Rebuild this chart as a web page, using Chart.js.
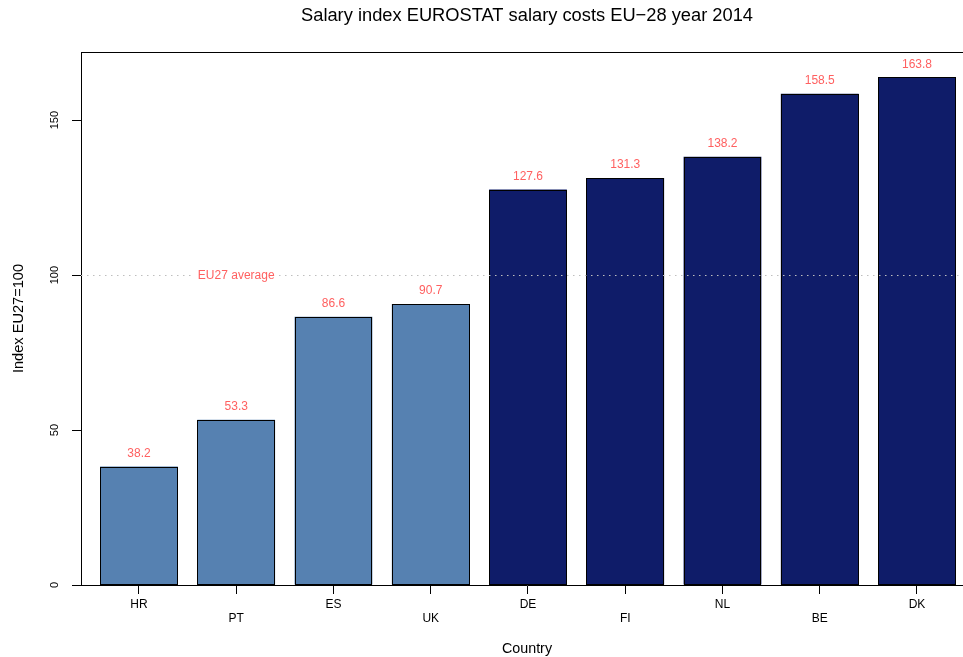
<!DOCTYPE html>
<html>
<head>
<meta charset="utf-8">
<script src="https://cdn.jsdelivr.net/npm/chart.js@4"></script>
<style>
html,body{margin:0;padding:0;background:#fff;overflow:hidden;width:963px;height:657px;}
#wrap{width:973px;height:657px;}
</style>
</head>
<body>
<div id="wrap"><canvas id="c" width="973" height="657"></canvas></div>
<script>
const countries = ['HR','PT','ES','UK','DE','FI','NL','BE','DK'];
const salaryIndex = [38.2, 53.3, 86.6, 90.7, 127.6, 131.3, 138.2, 158.5, 163.8];
const yTicks = [0, 50, 100, 150];
const euAverage = 100;
const averageLabel = 'EU27 average';
const titleText = 'Salary index EUROSTAT salary costs EU\u221228 year 2014';
const xTitle = 'Country';
const yTitle = 'Index EU27=100';

const FAMILY = "'Liberation Sans Narrow','Liberation Sans',sans-serif";
const STRETCH = 'condensed';
const LIGHT = '#5681B1';
const DARK = '#0F1C69';
const RED = '#FF6060';
const f = (size, lineHeight) => ({family: FAMILY, size, style: 'normal', weight: STRETCH, lineHeight: lineHeight || 1.2});

const overlayPlugin = {
  id: 'overlay',
  afterDatasetsDraw(chart){
    const {ctx, chartArea:a, scales:{x, y}} = chart;
    ctx.save();
    ctx.strokeStyle = '#000'; ctx.lineWidth = 1;
    // crisp bar outlines from the library's bar elements
    chart.getDatasetMeta(0).data.forEach(bar => {
      const l = Math.round(bar.x - bar.width / 2), r = Math.round(bar.x + bar.width / 2);
      const t = Math.round(bar.y), b = Math.round(bar.base);
      ctx.strokeRect(l + 0.5, t + 0.5, r - l - 1, b - t - 1);
    });
    // top border of the plot box
    ctx.beginPath(); ctx.moveTo(a.left, Math.round(a.top)+0.5); ctx.lineTo(a.right, Math.round(a.top)+0.5); ctx.stroke();
    // average line
    const ya = Math.round(y.getPixelForValue(euAverage)) + 0.5;
    ctx.strokeStyle = '#BEBEBE'; ctx.setLineDash([1.5, 4.5]);
    ctx.beginPath(); ctx.moveTo(a.left, ya); ctx.lineTo(a.right, ya); ctx.stroke();
    ctx.setLineDash([]);
    ctx.font = 'normal ' + STRETCH + ' 12px ' + FAMILY;
    ctx.textAlign = 'center'; ctx.textBaseline = 'middle';
    const ax = x.getPixelForValue(1);
    const w = ctx.measureText(averageLabel).width;
    ctx.fillStyle = '#fff';
    ctx.fillRect(ax - w/2 - 4, ya - 7, w + 8, 14);
    ctx.fillStyle = RED;
    ctx.fillText(averageLabel, ax, ya);
    // value labels
    salaryIndex.forEach((v, i) => {
      ctx.fillText(v.toFixed(1), x.getPixelForValue(i), y.getPixelForValue(v) - 13);
    });
    ctx.restore();
  }
};

new Chart(document.getElementById('c'), {
  type: 'bar',
  data: {
    datasets: [{
      data: salaryIndex.map((v, i) => ({x: i, y: v})),
      backgroundColor: salaryIndex.map(v => v < euAverage ? LIGHT : DARK),
      borderWidth: 0,
      categoryPercentage: 1,
      barPercentage: 0.8
    }]
  },
  options: {
    responsive: false,
    animation: false,
    devicePixelRatio: 1,
    layout: {padding: 0},
    plugins: {
      legend: {display: false},
      tooltip: {enabled: false},
      title: {
        display: true, fullSize: false, text: titleText, color: '#000',
        font: f(18.3, 1.2),
        padding: {top: 5, bottom: 25.04}
      }
    },
    scales: {
      x: {
        type: 'linear', min: -0.596, max: 8.576, offset: false,
        afterBuildTicks(s){ s.ticks = countries.map((_, i) => ({value: i})); },
        afterFit(s){ s.height = 72; },
        grid: {drawOnChartArea: false, drawTicks: true, tickLength: 9, color: '#000', offset: false},
        border: {display: true, color: '#000', width: 1},
        ticks: {
          color: '#000', padding: 4.25, maxRotation: 0, autoSkip: false,
          font: f(12, 1.125),
          callback: (v) => { const i = Math.round(v); return i % 2 ? ['', countries[i]] : countries[i]; }
        },
        title: {display: true, text: xTitle, color: '#000', font: f(14.3, 1), padding: {top: 0, bottom: 0.85}}
      },
      y: {
        min: 0, max: 172,
        afterBuildTicks(s){ s.ticks = yTicks.map(v => ({value: v})); },
        afterFit(s){ s.width = 81; },
        grid: {drawOnChartArea: false, drawTicks: true, tickLength: 9, color: '#000'},
        border: {display: true, color: '#000', width: 1},
        ticks: {color: '#000', padding: 7.8, minRotation: 90, maxRotation: 90, crossAlign: 'center', font: f(11)},
        title: {display: true, text: yTitle, color: '#000', font: f(14.6, 1.2), padding: {top: 10.24, bottom: 0}}
      }
    }
  },
  plugins: [overlayPlugin]
});
</script>
</body>
</html>
